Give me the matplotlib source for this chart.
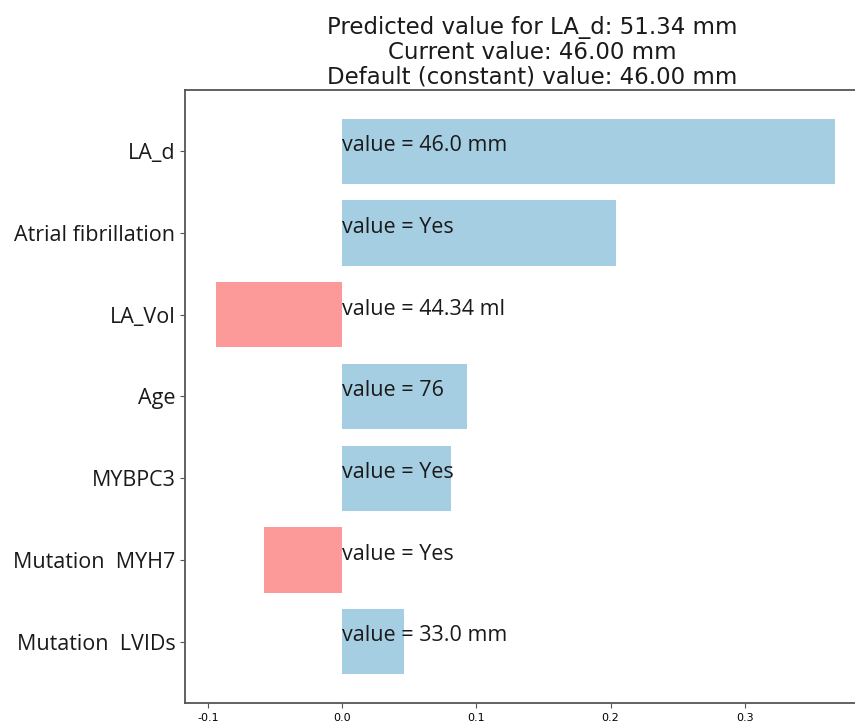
import matplotlib
matplotlib.use("Agg")
import matplotlib.pyplot as plt

features = ["LA_d", "Atrial fibrillation", "LA_Vol", "Age", "MYBPC3",
            "Mutation  MYH7", "Mutation  LVIDs"]
contributions = [0.367, 0.204, -0.094, 0.093, 0.081, -0.058, 0.046]
value_labels = ["value = 46.0 mm", "value = Yes", "value = 44.34 ml",
                "value = 76", "value = Yes", "value = Yes", "value = 33.0 mm"]
title_lines = ["Predicted value for LA_d: 51.34 mm",
               "Current value: 46.00 mm",
               "Default (constant) value: 46.00 mm"]
x_ticks = [-0.1, 0.0, 0.1, 0.2, 0.3]

POS_COLOR = "#a6cee3"
NEG_COLOR = "#fb9a99"

W, H = 855, 724
fig = plt.figure(figsize=(W / 100, H / 100), dpi=100)
ax = fig.add_axes([185 / W, 1 - 703 / H, (879 - 185) / W, (703 - 90) / H])

ypos = list(range(len(features)))
colors = [POS_COLOR if c >= 0 else NEG_COLOR for c in contributions]
ax.barh(ypos, contributions, height=0.8, color=colors)

for y, txt in zip(ypos, value_labels):
    ax.text(0.0, y - 0.07, txt, ha="left", va="center", fontsize=15.5,
            family="Open Sans", color="#1a1a1a")

ax.set_yticks(ypos)
ax.set_yticklabels(features, fontsize=15.5, family="Open Sans", color="#1a1a1a")
ax.set_ylim(len(features) - 0.25, -0.75)
ax.set_xlim(-0.117, 0.4)
ax.set_xticks(x_ticks)
ax.set_xticklabels([f"{t:.1f}" for t in x_ticks], fontsize=8)

for s in ax.spines.values():
    s.set_color("#555555")
    s.set_linewidth(1.3)
ax.spines["right"].set_visible(False)
ax.tick_params(axis="both", color="#555555")

ax.set_title("\n".join(title_lines), fontsize=16.5, linespacing=1.08, pad=5,
             color="#1a1a1a")

fig.savefig("out.png", dpi=100)
